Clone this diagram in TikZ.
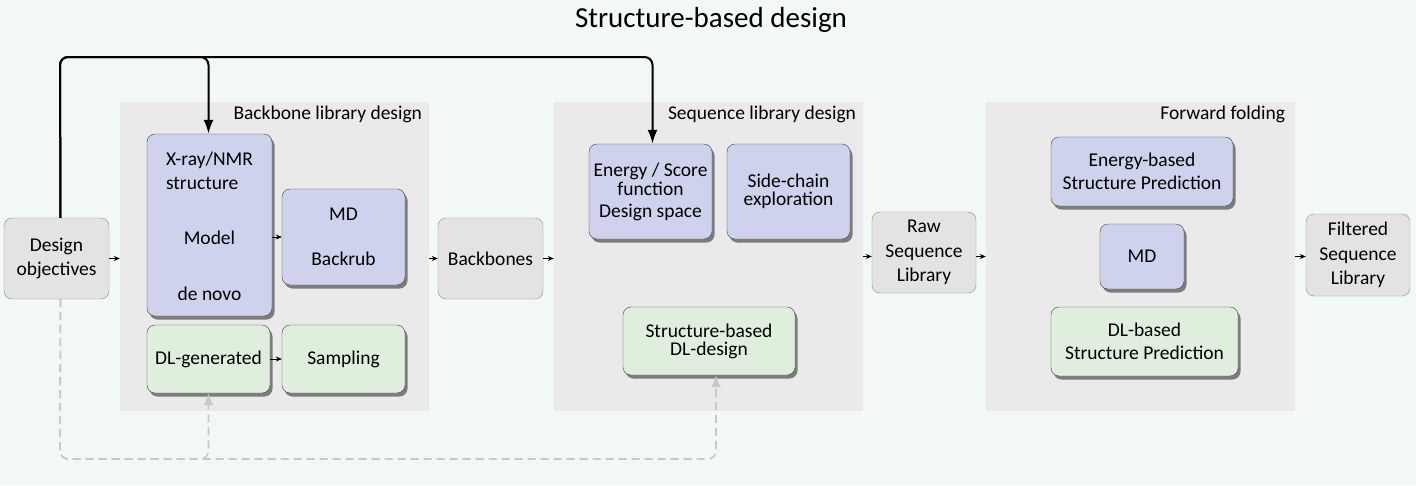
\documentclass[tikz,border=0pt]{standalone}
\usepackage{fontspec}
\setmainfont{Carlito}
\usetikzlibrary{arrows.meta,shadows,positioning}
\definecolor{bgmint}{RGB}{241,248,247}
\definecolor{grpgray}{RGB}{234,234,234}
\definecolor{boxgray}{RGB}{227,227,227}
\definecolor{boxblue}{RGB}{206,210,236}
\definecolor{boxgreen}{RGB}{224,238,221}
\definecolor{dashgray}{RGB}{200,200,200}
\tikzset{
  every node/.style={font=\fontsize{19.5}{23.5}\selectfont, align=center},
  grp/.style={fill=grpgray, inner sep=0},
  grptitle/.style={anchor=north east, inner sep=0},
  stage/.style={draw=black!45, fill=boxgray, rounded corners=8, inner sep=2},
  method/.style={draw=black!75, rounded corners=8, inner sep=2,
    drop shadow={shadow xshift=2.5pt, shadow yshift=-3.5pt, fill=black!80, opacity=0.6}},
  flow/.style={-{Stealth[length=6pt, width=5pt]}, line width=0.7pt},
  link/.style={-{Latex[length=14pt, width=10pt]}, line width=2pt, rounded corners=8},
  feedback/.style={-{Latex[length=12pt, width=10pt]}, dashgray, line width=1.6pt,
    dash pattern=on 8pt off 5pt, rounded corners=8}
}
\begin{document}
\begin{tikzpicture}[x=1pt, y=-1pt]
  \fill[bgmint] (0,0) rectangle (1416,485);
  \useasboundingbox (0,0) rectangle (1416,485);
  \node[font=\fontsize{29}{34}\selectfont] (title) at (711,20) {Structure-based design};

  % stage panels
  \node[grp, minimum width=309, minimum height=309] (bbgrp) at (274.5,256.5) {};
  \node[grp, minimum width=309, minimum height=309] (seqgrp) at (708.5,256.5) {};
  \node[grp, minimum width=309, minimum height=309] (foldgrp) at (1140.5,256.5) {};
  \node[grptitle] at ([xshift=-7, yshift=-4]bbgrp.north east) {Backbone library design};
  \node[grptitle] at ([xshift=-7, yshift=-4]seqgrp.north east) {Sequence library design};
  \node[grptitle] at ([xshift=-10, yshift=-4]foldgrp.north east) {Forward folding};

  % inputs and outputs
  \node[stage, minimum width=105, minimum height=81] (objectives) at (56.5,258.5) {Design\\objectives};
  \node[stage, minimum width=105, minimum height=81] (backbones) at (490.5,258.5) {Backbones};
  \node[stage, minimum width=104, minimum height=81] (raw) at (924,252.5) {Raw\\[1pt]Sequence\\[1pt]Library};
  \node[stage, minimum width=104, minimum height=82] (filtered) at (1358,255) {Filtered\\[1pt]Sequence\\[1pt]Library};

  % backbone library design
  \node[method, fill=boxblue, minimum width=125, minimum height=182] (xray) at (209.5,225)
    {\begin{tabular}[b]{@{}l@{}}X-ray/NMR\\structure\end{tabular}\\[32pt]Model\\[32pt]de novo};
  \node[method, fill=boxblue, minimum width=123, minimum height=96] (mdback) at (343.5,237) {MD\\[22pt]Backrub};
  \node[method, fill=boxgreen, minimum width=123, minimum height=68] (dlgen) at (208.5,359) {DL-generated};
  \node[method, fill=boxgreen, minimum width=123, minimum height=68] (sampling) at (343.5,359) {Sampling};

  % sequence library design
  \node[method, fill=boxblue, minimum width=123, minimum height=95] (energy) at (650.5,191.5)
    {Energy / Score\\[-4.5pt]function\\[-1.5pt]Design space};
  \node[method, fill=boxblue, minimum width=123, minimum height=95] (sidechain) at (788.5,191.5)
    {Side-chain\\[-5.5pt]exploration};
  \node[method, fill=boxgreen, minimum width=172, minimum height=68] (dldesign) at (709,341)
    {Structure-based\\[-5.5pt]DL-design};

  % forward folding
  \node[method, fill=boxblue, minimum width=182, minimum height=69] (energysp) at (1142,171.5)
    {Energy-based\\Structure Prediction};
  \node[method, fill=boxblue, minimum width=84, minimum height=65] (mdfold) at (1142,256.5) {MD};
  \node[method, fill=boxgreen, minimum width=187, minimum height=69] (dlsp) at (1144.5,341.5)
    {DL-based\\Structure Prediction};

  % flow
  \draw[flow] (objectives.east) -- (objectives.east -| bbgrp.west);
  \draw[flow] (xray.east |- mdback.west) -- (mdback.west);
  \draw[flow] (dlgen) -- (sampling);
  \draw[flow] (bbgrp.east |- backbones.west) -- (backbones.west);
  \draw[flow] (backbones.east) -- (backbones.east -| seqgrp.west);
  \draw[flow] (seqgrp.east) -- (seqgrp.east -| raw.west);
  \draw[flow] (raw.east |- foldgrp.west) -- (foldgrp.west);
  \draw[flow] (foldgrp.east) -- (foldgrp.east -| filtered.west);

  % objectives feed the design steps
  \coordinate (top) at (60,57);
  \coordinate (bottom) at (60,459);
  \draw[link] ([xshift=4]objectives.north) -- (top) -| ([xshift=-1]xray.north);
  \draw[link] ([xshift=4]objectives.north) -- (top) -| ([xshift=2]energy.north);
  \draw[feedback] ([xshift=4]objectives.south) -- (bottom) -| (dlgen.south);
  \draw[feedback] ([xshift=4]objectives.south) -- (bottom) -| ([xshift=7]dldesign.south);
\end{tikzpicture}
\end{document}
